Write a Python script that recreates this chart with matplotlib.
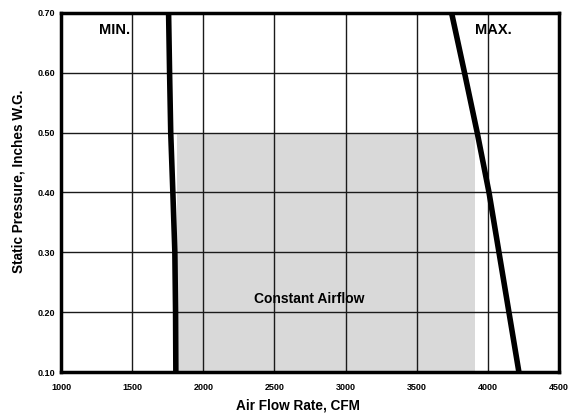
import matplotlib
matplotlib.use("Agg")
import matplotlib.pyplot as plt

plt.rcParams['font.family'] = ['Liberation Sans', 'DejaVu Sans']
plt.rcParams['font.weight'] = 'bold'
plt.rcParams['axes.labelweight'] = 'bold'

# static pressure points shared by both fan curves (in. W.G.)
pressure = [0.70, 0.60, 0.50, 0.40, 0.30, 0.20, 0.10]
min_cfm = [1756, 1763, 1771, 1786, 1800, 1805, 1807]
max_cfm = [3745, 3836, 3925, 4008, 4078, 4148, 4218]

# constant airflow operating window
const_cfm = [1814, 3910]
const_sp = [0.10, 0.50]

x_ticks = [1000, 1500, 2000, 2500, 3000, 3500, 4000, 4500]
y_ticks = [0.10, 0.20, 0.30, 0.40, 0.50, 0.60, 0.70]

fig = plt.figure(figsize=(5.73, 4.15), dpi=100)
ax = fig.add_axes([0.1065, 0.1036, 0.8691, 0.8651])

ax.fill_between(const_cfm, const_sp[0], const_sp[1], color='#d9d9d9', lw=0, zorder=0)
ax.plot(min_cfm, pressure, color='black', lw=4, solid_joinstyle='round', zorder=4)
ax.plot(max_cfm, pressure, color='black', lw=4, solid_joinstyle='round', zorder=4)

ax.set_xlim(1000, 4500)
ax.set_ylim(0.10, 0.70)
ax.set_xticks(x_ticks)
ax.set_yticks(y_ticks)
ax.set_xticklabels([str(v) for v in x_ticks])
ax.set_yticklabels(['%.2f' % v for v in y_ticks])
ax.tick_params(length=0, labelsize=6.5, pad=8)
ax.tick_params(axis='y', pad=4)
ax.set_axisbelow(False)
ax.grid(True, color='#1a1a1a', lw=1.0, zorder=1)
for s in ax.spines.values():
    s.set_linewidth(2.5)
    s.set_zorder(5)

ax.text(1378, 0.672, 'MIN.', fontsize=10.5, ha='center', va='center')
ax.text(4040, 0.672, 'MAX.', fontsize=10.5, ha='center', va='center')
ax.text(2745, 0.222, 'Constant Airflow', fontsize=10, ha='center', va='center', zorder=6)

ax.set_xlabel('Air Flow Rate, CFM', fontsize=9.8)
ax.set_ylabel('Static Pressure, Inches W.G.', fontsize=9.8)
ax.xaxis.set_label_coords(0.476, -0.075)
ax.yaxis.set_label_coords(-0.072, 0.532)

fig.savefig('out.png', dpi=100)
